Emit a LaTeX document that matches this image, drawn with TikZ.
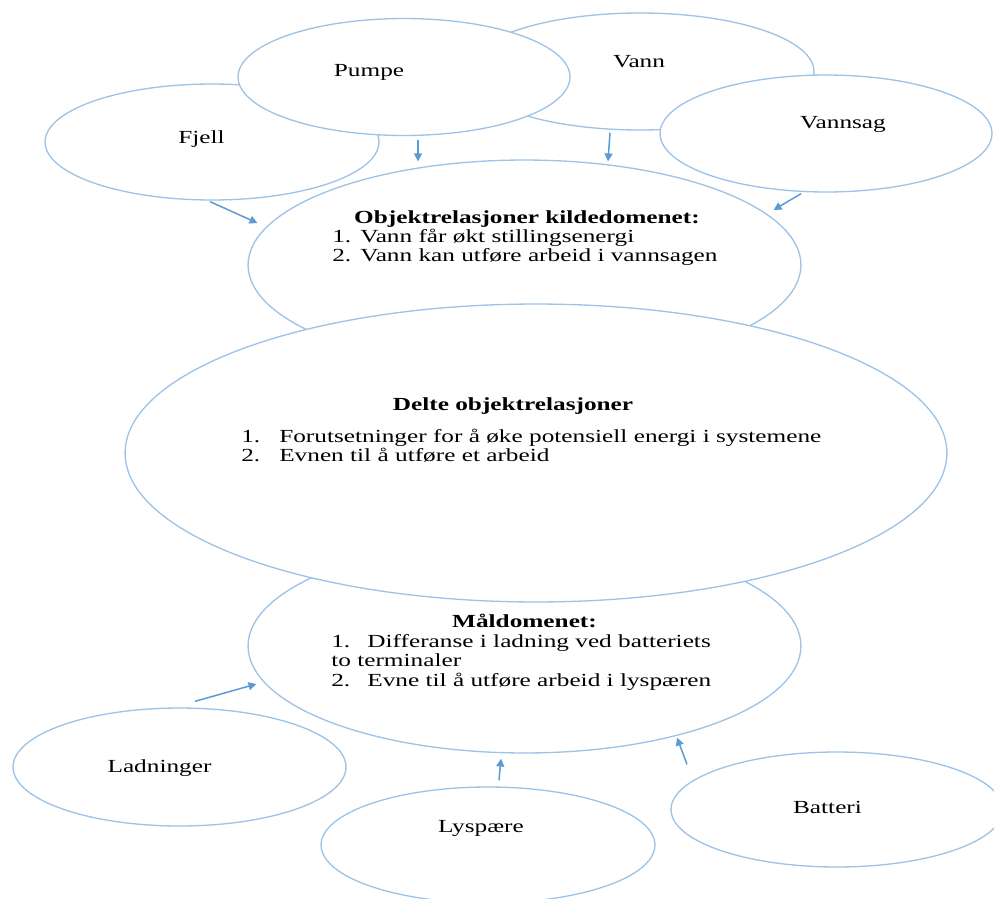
\documentclass[tikz,border=0pt]{standalone}
\usepackage{fontspec}
\setmainfont{Liberation Serif}
\newfontfamily\diagfont[FakeStretch=1.37]{Liberation Serif}
\usepackage{tikz}
\usetikzlibrary{shapes.geometric,arrows.meta}
\definecolor{ovalblue}{RGB}{157,195,230}
\definecolor{arrblue}{RGB}{91,155,213}

\begin{document}
\begin{tikzpicture}[
  x=0.02cm,y=-0.02cm,
  oval/.style 2 args={ellipse,draw=ovalblue,fill=white,line width=0.75pt,
              inner sep=0pt,minimum width=#1,minimum height=#2},
  arr/.style={-{Triangle[length=4.5pt,width=4.5pt]},line width=0.85pt,color=arrblue},
  lbl/.style={font=\diagfont\fontsize{10.5}{11.1}\selectfont,inner sep=0pt,anchor=base},
  head/.style={lbl,font=\diagfont\bfseries\fontsize{10.5}{11.1}\selectfont},
  items/.style={lbl,anchor=base west}
]
\path[fill=white] (0,0) rectangle (994,899);
\useasboundingbox (0,0) rectangle (994,899);

% kildedomenet
\node[oval={6.68cm}{2.32cm}] (fjell)   at (212,142)   {};
\node[oval={6.96cm}{2.34cm}] (vann)    at (640,71.5)  {};
\node[oval={6.64cm}{2.34cm}] (pumpe)   at (404,77)    {};
\node[oval={6.64cm}{2.34cm}] (vannsag) at (826,133.5) {};
\node[oval={11.06cm}{4.2cm}] (kilde)   at (524.5,265) {};

% maaldomenet og delte relasjoner
\node[oval={11.06cm}{4.28cm}] (maal)  at (524.5,646) {};
\node[oval={16.44cm}{5.96cm}] (delte) at (536,453)   {};
\node[oval={6.66cm}{2.36cm}] (ladninger) at (179.5,767) {};
\node[oval={6.68cm}{2.32cm}] (lyspaere)  at (488,845)   {};
\node[oval={6.64cm}{2.3cm}]  (batteri)   at (837,809.5) {};

% tekster
\node[lbl] (fjelltxt)   at (201.5,143) {Fjell};
\node[lbl] (pumpetxt)   at (369,76)    {Pumpe};
\node[lbl] (vanntxt)    at (639,67)    {Vann};
\node[lbl] (vannsagtxt) at (843,128)   {Vannsag};
\node[lbl] (ladntxt)    at (159.5,772) {Ladninger};
\node[lbl] (lystxt)     at (481,832)   {Lyspære};
\node[lbl] (battxt)     at (827.5,813) {Batteri};

\node[head]  (kildehead) at (527,223) {Objektrelasjoner kildedomenet:};
\node[items] (kildelist) at (332,242) {\begin{tabular}[t]{@{}p{15.9pt}@{}l@{}}
  1. & Vann får økt stillingsenergi\\
  2. & Vann kan utføre arbeid i vannsagen
\end{tabular}};

\node[head]  (deltehead) at (513,410) {Delte objektrelasjoner};
\node[items] (deltelist) at (241,442) {\begin{tabular}[t]{@{}p{21.6pt}@{}l@{}}
  1. & Forutsetninger for å øke potensiell energi i systemene\\
  2. & Evnen til å utføre et arbeid
\end{tabular}};

\node[head]  (maalhead) at (524.5,627) {Måldomenet:};
\node[items] (maallist) at (331,647) {\begin{tabular}[t]{@{}p{20.5pt}@{}l@{}}
  1. & Differanse i ladning ved batteriets\\
  \multicolumn{2}{@{}l@{}}{to terminaler}\\
  2. & Evne til å utføre arbeid i lyspæren
\end{tabular}};

% piler
\draw[arr] ([shift={(-2,1)}]fjell.south)      -- ([shift={(10,-42)}]kilde.west);
\draw[arr] ([shift={(14,3.5)}]pumpe.south)    -- ([shift={(-106.5,2)}]kilde.north);
\draw[arr] ([shift={(-30,2)}]vann.south)      -- ([shift={(83.5,2)}]kilde.north);
\draw[arr] ([shift={(-25,1)}]vannsag.south)   -- ([shift={(-28,-55)}]kilde.east);
\draw[arr] ([shift={(15.5,-6)}]ladninger.north) -- ([shift={(9,38)}]maal.west);
\draw[arr] ([shift={(11,-6)}]lyspaere.north)  -- ([shift={(-23.5,5)}]maal.south);
\draw[arr] ([shift={(-150,13)}]batteri.north) -- ([shift={(152.5,-16)}]maal.south);
\end{tikzpicture}
\end{document}
